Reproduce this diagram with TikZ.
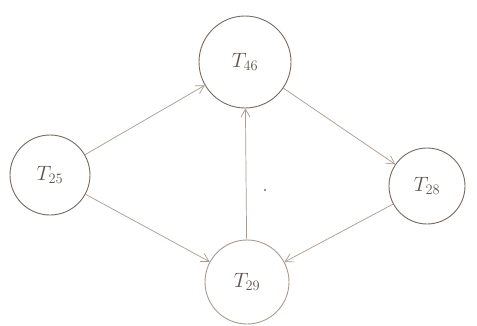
\documentclass[tikz,border=0pt]{standalone}
\usetikzlibrary{arrows.meta}
\definecolor{pencil}{RGB}{120,105,95}
\definecolor{pencillight}{RGB}{170,155,145}
\begin{document}
\begin{tikzpicture}[x=1pt,y=-1pt,
  tnode/.style={circle,draw=pencil,line width=0.9pt,text=pencil!80!black,font=\huge,inner sep=0pt},
  conn/.style={draw=pencillight,line width=0.7pt,-{Straight Barb[length=8pt,width=9pt]}}]
\useasboundingbox[fill=white] (0,0) rectangle (477,325);
\node[tnode,minimum size=92pt] (t46) at (245,62) {$T_{46}$};
\node[tnode,minimum size=80pt] (t25) at (50,175) {$T_{25}$};
\node[tnode,minimum size=76pt] (t28) at (427,186) {$T_{28}$};
\node[tnode,minimum size=84pt,draw=pencillight] (t29) at (247,282) {$T_{29}$};
\coordinate (dot) at (265,190);
\fill[pencil] (dot) circle (1.2pt);
\draw[conn] (t25) -- (t46);
\draw[conn] (t46) -- (t28);
\draw[conn] (t29) -- (t46);
\draw[conn] (t25) -- (t29);
\draw[conn] (t28) -- (t29);
\end{tikzpicture}
\end{document}
